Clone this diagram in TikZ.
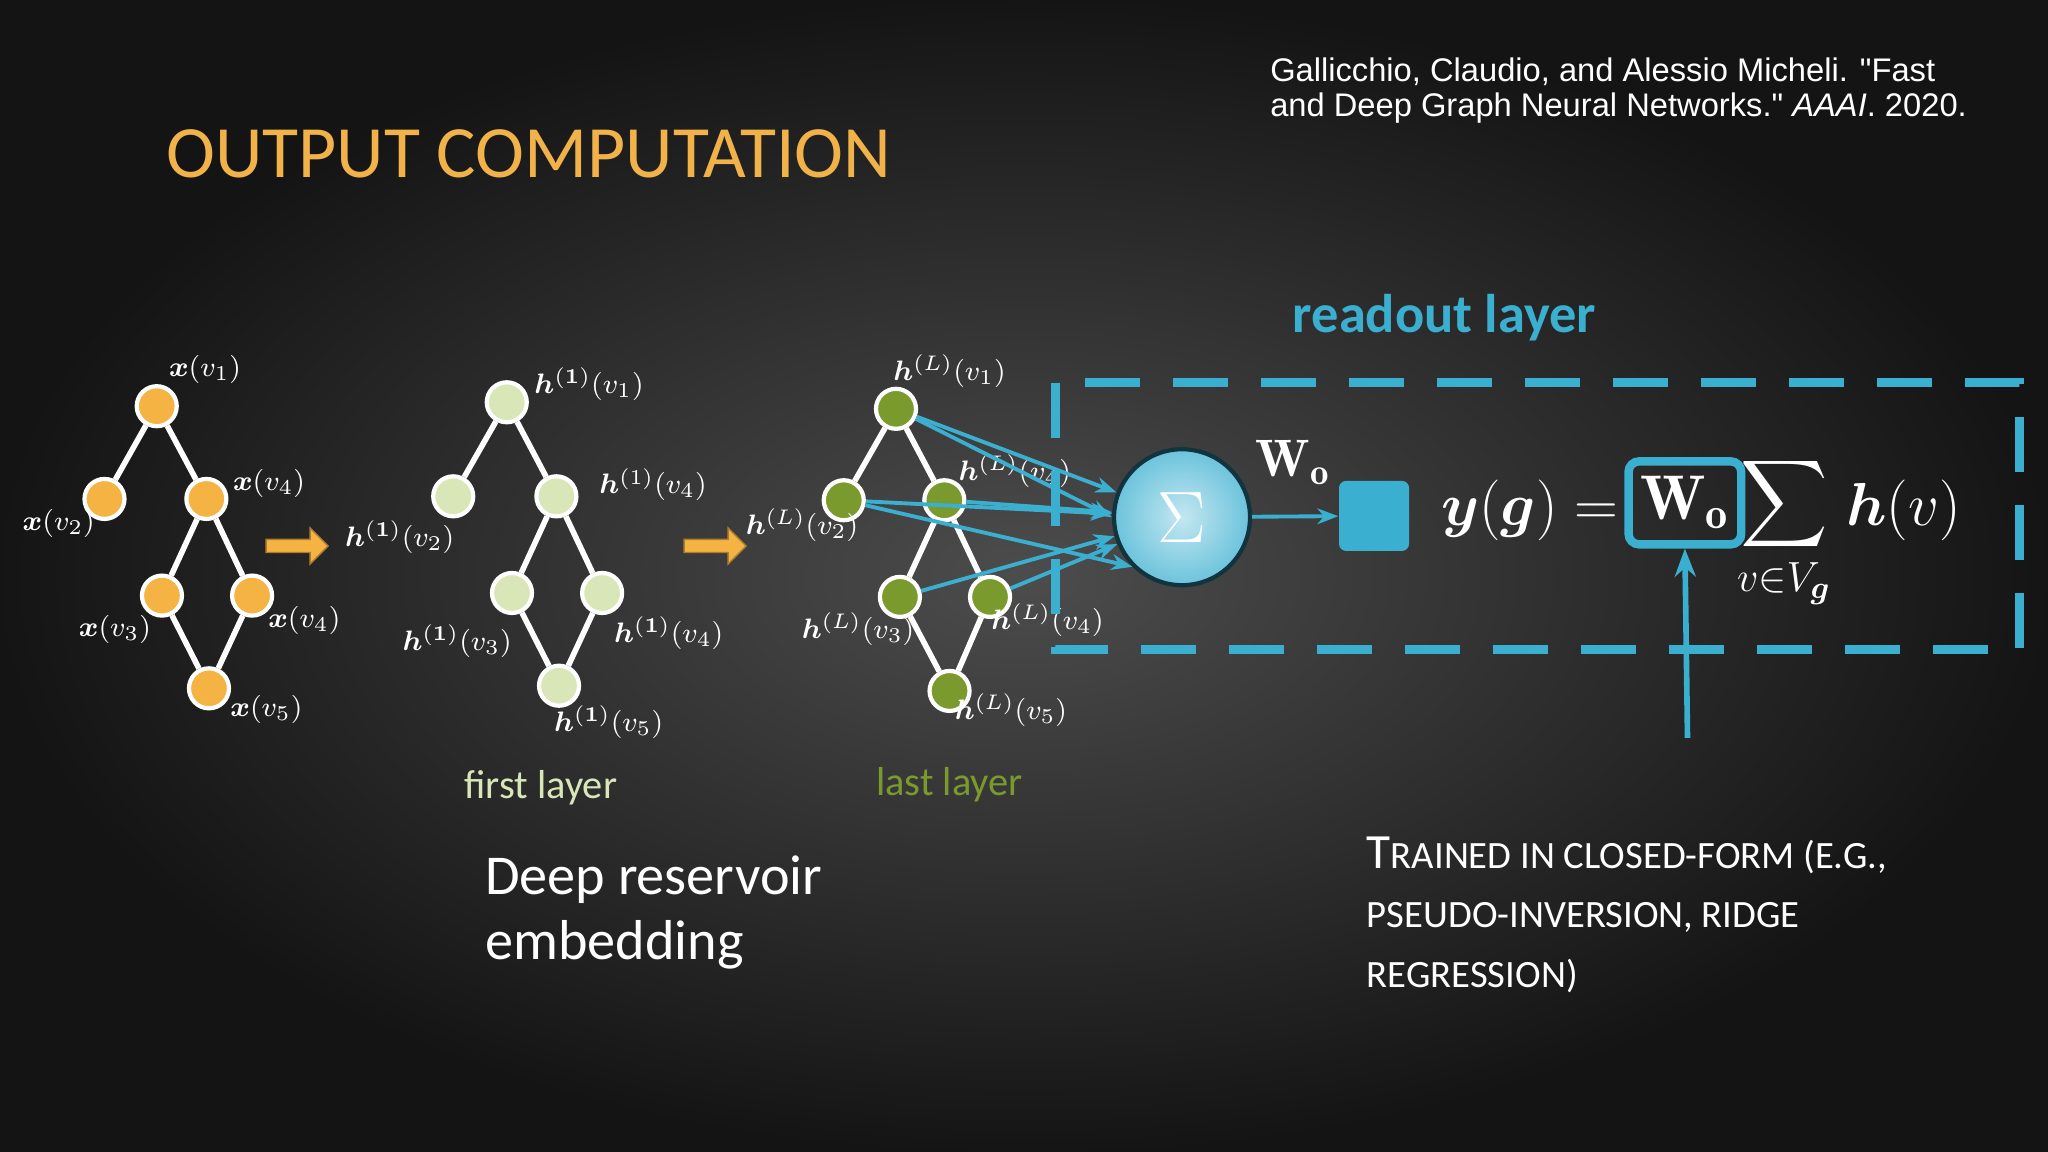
\documentclass[tikz,border=0pt]{standalone}
\usepackage{amsmath,bm}
\usepackage{fontspec}
\newfontfamily\carl{Carlito}
\newfontfamily\citefont{Liberation Sans}
\usetikzlibrary{arrows.meta,shapes.arrows}
\definecolor{org}{HTML}{F4B342}
\definecolor{lgr}{HTML}{D8E6B8}
\definecolor{dgr}{HTML}{7A9A2E}
\definecolor{blu}{HTML}{3AAFD0}
\definecolor{ttl}{HTML}{F1B24A}
\begin{document}
\begin{tikzpicture}[x=0.013061cm,y=-0.013061cm,
  nd/.style={circle,minimum size=0.4cm,inner sep=0pt,draw=white,line width=1.2pt},
  ed/.style={white,line width=1.6pt},
  lb/.style={text=white,font=\fontsize{8.5}{10}\selectfont,inner sep=1pt},
  ba/.style={blu,line width=1.1pt,-{Stealth[length=6pt]}},
  eqf/.style={text=white,font=\fontsize{18}{20}\selectfont,inner sep=0pt},
  oa/.style={single arrow,fill=org,draw=org!70!black,minimum height=0.62cm,minimum width=0.36cm,single arrow head extend=3pt,inner sep=1.5pt}]
\useasboundingbox (0,0) rectangle (1568,882);
\shade[inner color=black!70!white,outer color=black!92] (0,0) rectangle (1568,882);
\node[anchor=west,text=ttl,font=\carl\fontsize{21}{24}\selectfont] (title) at (118,118) {OUTPUT COMPUTATION};
\node[anchor=north west,text=white,align=left,font=\citefont\fontsize{9.3}{9.8}\selectfont,inner sep=0pt] (cite) at (972,44) {Gallicchio, Claudio, and Alessio Micheli. "Fast\\and Deep Graph Neural Networks." \textit{AAAI}. 2020.};
\foreach \n/\x/\y in {a1/120/311,a2/80/382,a4/158/382,a3/124/456,a5/193/456,a6/160/527}
  \node[nd,fill=org] (\n) at (\x,\y) {};
\foreach \n/\x/\y in {b1/388/308,b2/347/380,b4/426/380,b3/392/454,b5/461/454,b6/428/525}
  \node[nd,fill=lgr] (\n) at (\x,\y) {};
\foreach \n/\x/\y in {c1/686/313,c2/646/383,c4/723/383,c3/689/457,c5/758/457,c6/727/529}
  \node[nd,fill=dgr] (\n) at (\x,\y) {};
\foreach \g in {a,b,c}{
  \draw[ed] (\g1)--(\g2) (\g1)--(\g4) (\g4)--(\g3) (\g4)--(\g5) (\g3)--(\g6) (\g5)--(\g6);}
\node[lb] (la1) at (157,283) {$\bm{x}(v_1)$};
\node[lb] (la2) at (45,401) {$\bm{x}(v_2)$};
\node[lb] (la4) at (206,370) {$\bm{x}(v_4)$};
\node[lb] (la3) at (88,482) {$\bm{x}(v_3)$};
\node[lb] (la5) at (233,475) {$\bm{x}(v_4)$};
\node[lb] (la6) at (204,543) {$\bm{x}(v_5)$};
\node[lb] (lb1) at (451,294) {$\bm{h}^{(\bm{1})}(v_1)$};
\node[lb] (lb2) at (306,411) {$\bm{h}^{(\bm{1})}(v_2)$};
\node[lb] (lb4) at (500,371) {$\bm{h}^{(1)}(v_4)$};
\node[lb] (lb3) at (350,491) {$\bm{h}^{(\bm{1})}(v_3)$};
\node[lb] (lb5) at (512,485) {$\bm{h}^{(\bm{1})}(v_4)$};
\node[lb] (lb6) at (466,553) {$\bm{h}^{(\bm{1})}(v_5)$};
\node[lb] (lc1) at (727,284) {$\bm{h}^{(L)}(v_1)$};
\node[lb] (lc2) at (614,402) {$\bm{h}^{(L)}(v_2)$};
\node[lb] (lc4) at (777,361) {$\bm{h}^{(L)}(v_4)$};
\node[lb] (lc3) at (657,482) {$\bm{h}^{(L)}(v_3)$};
\node[lb] (lc5) at (802,475) {$\bm{h}^{(L)}(v_4)$};
\node[lb] (lc6) at (774,544) {$\bm{h}^{(L)}(v_5)$};
\node[oa] (ar1) at (225,418) {};
\node[oa] (ar2) at (545,418) {};
\node[text=lgr,font=\carl\fontsize{11.5}{13}\selectfont] (fl) at (414,603) {first layer};
\node[text=dgr,font=\carl\fontsize{11.5}{13}\selectfont] (ll) at (727,601) {last layer};
\node[anchor=north west,text=white,align=left,font=\carl\fontsize{16}{18.5}\selectfont,inner sep=0pt] (dre) at (371,655) {Deep reservoir\\embedding};
\draw[blu,line width=2.6pt,dash pattern=on 0.55cm off 0.33cm] (808,293) rectangle (1546,497);
\node[text=blu,font=\carl\bfseries\fontsize{15.5}{18}\selectfont] (ro) at (1106,243) {readout layer};
\node[circle,minimum size=1.36cm,draw=black!70!blu,line width=1.2pt,inner color=blu!30!white,outer color=blu!75!white,text=white,font=\fontsize{20}{22}\selectfont] (sig) at (905,396) {$\Sigma$};
\foreach \c in {c1,c2,c4,c3,c5} \draw[ba] (\c) -- (sig);
\draw[ba] (c1) -- (sig.west);
\draw[ba] (c2) -- (sig.south west);
\node[fill=blu,minimum size=0.7cm,rounded corners=2pt,inner sep=0pt] (sq) at (1052,395) {};
\draw[ba] (sig) -- (sq);
\node[text=white,font=\fontsize{15}{16}\selectfont] (wo) at (990,354) {$\mathbf{W_o}$};
\node[eqf,anchor=base west] (eq1) at (1103,402) {$\bm{y}(\bm{g})=$};
\node[draw=blu,line width=2.4pt,rounded corners=3pt,minimum width=1.0cm,minimum height=0.83cm,text=white,font=\fontsize{18}{20}\selectfont] (box) at (1290,385) {$\mathbf{W_o}$};
\node[eqf] (sum) at (1366,408) {$\displaystyle\sum_{v\in V_{\bm g}}$};
\node[eqf,anchor=base west] (eq2) at (1413,402) {$\bm{h}(v)$};
\coordinate (tail) at (1292,565);
\draw[blu,line width=1.6pt,-{Stealth[length=8pt]}] (tail) -- (box.south);
\node[anchor=north west,text=white,align=left,font=\carl\fontsize{14}{15}\selectfont,inner sep=0pt] (tr) at (1046,640) {T{\fontsize{11}{12}\selectfont RAINED IN CLOSED-FORM (E.G.,}\\[2pt]{\fontsize{11}{12}\selectfont PSEUDO-INVERSION, RIDGE}\\[2pt]{\fontsize{11}{12}\selectfont REGRESSION)}};
\end{tikzpicture}
\end{document}
